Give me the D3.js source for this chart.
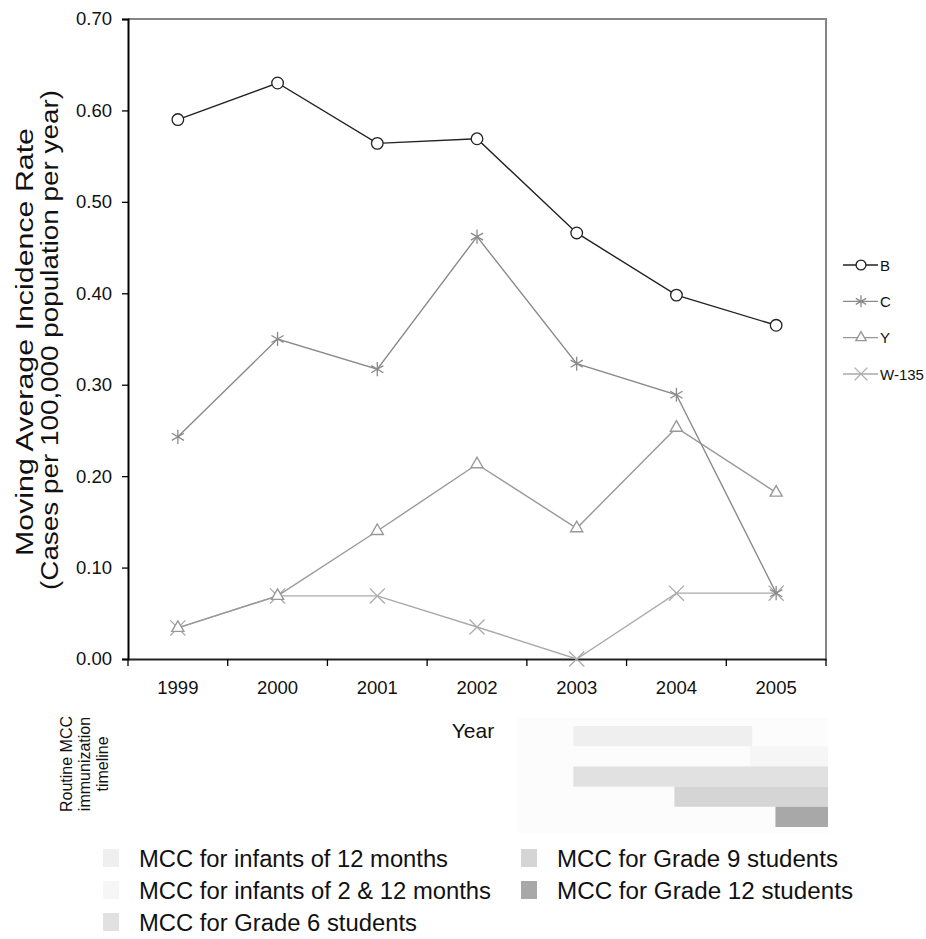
<!DOCTYPE html>
<html><head><meta charset="utf-8">
<script src="https://cdn.jsdelivr.net/npm/d3@7"></script>
<style>body{margin:0;background:#fff;} svg{display:block;font-family:"Liberation Sans",Arial,sans-serif;}</style>
</head><body>
<svg id="chart" width="926" height="939"></svg>
<script>
const years = ["1999","2000","2001","2002","2003","2004","2005"];
const seriesNames = ["B","C","Y","W-135"];
const valuesB = [0.590, 0.630, 0.564, 0.569, 0.466, 0.398, 0.365];
const valuesC = [0.243, 0.350, 0.317, 0.462, 0.323, 0.289, 0.072];
const valuesY = [0.034, 0.069, 0.140, 0.213, 0.143, 0.253, 0.182];
const valuesW = [0.034, 0.069, 0.069, 0.035, 0.000, 0.072, 0.072];
const yTicks = [0,0.1,0.2,0.3,0.4,0.5,0.6,0.7];
const programs = ["MCC for infants of 12 months","MCC for infants of 2 & 12 months","MCC for Grade 6 students","MCC for Grade 9 students","MCC for Grade 12 students"];
const programStart = [2003, 2004.75, 2003, 2004, 2005];
const programEnd = [2004.75, 2005.5, 2005.5, 2005.5, 2005.5];

const svg = d3.select("#chart");
const L=128,R=826,T=19,B=659;
const x = d3.scaleBand().domain(years).range([L,R]);
const y = d3.scaleLinear().domain([0,0.7]).range([B,T]);
const xt = d3.scaleLinear().domain([1998.5,2005.5]).range([118.5,826]);

// frame top/right
svg.append("path").attr("d",`M${L},${T}H${R}V${B}`).attr("fill","none").attr("stroke","#858585").attr("stroke-width",2);

// y axis
const ya = svg.append("g").attr("transform",`translate(${L},0)`).call(d3.axisLeft(y).tickValues(yTicks).tickFormat(d3.format(".2f")).tickSizeOuter(0).tickSize(6).tickPadding(10));
ya.select(".domain").attr("stroke","#000").attr("stroke-width",2);
ya.selectAll(".tick line").attr("stroke","#000").attr("stroke-width",1.3);
ya.selectAll(".tick text").attr("font-size",18.5).attr("fill","#111").attr("font-family","Liberation Sans, Arial, sans-serif");

// x axis
const xa = svg.append("g").attr("transform",`translate(0,${B})`).call(d3.axisBottom(x).tickSize(0).tickPadding(22).tickSizeOuter(0));
xa.select(".domain").attr("stroke","#222").attr("stroke-width",2);
xa.selectAll(".tick text").attr("font-size",18.5).attr("fill","#111").attr("font-family","Liberation Sans, Arial, sans-serif");
const bounds = d3.range(years.length+1).map(i=>L+i*x.bandwidth());
svg.append("g").selectAll("line").data(bounds).join("line")
  .attr("x1",d=>d).attr("x2",d=>d).attr("y1",B).attr("y2",B+7).attr("stroke","#000").attr("stroke-width",1.3);

// axis titles
svg.append("text").attr("transform","translate(33,342) rotate(-90)").attr("text-anchor","middle").attr("font-size",23).attr("fill","#111")
  .attr("textLength",428).attr("lengthAdjust","spacingAndGlyphs").text("Moving Average Incidence Rate");
svg.append("text").attr("transform","translate(58,340) rotate(-90)").attr("text-anchor","middle").attr("font-size",23).attr("fill","#111")
  .attr("textLength",500).attr("lengthAdjust","spacingAndGlyphs").text("(Cases per 100,000 population per year)");
svg.append("text").attr("x",473).attr("y",738).attr("text-anchor","middle").attr("font-size",21).attr("fill","#111").text("Year");

// series
const series = [
  {name:"B", vals:valuesB, color:"#222", sym:"circle"},
  {name:"C", vals:valuesC, color:"#8a8a8a", sym:"asterisk"},
  {name:"Y", vals:valuesY, color:"#999", sym:"triangle"},
  {name:"W-135", vals:valuesW, color:"#aaa", sym:"times"}
];
function marker(g, s, cx, cy, k){
  if(s.sym==="circle"){
    g.append("circle").attr("cx",cx).attr("cy",cy).attr("r",5.8*k).attr("fill","#fff").attr("stroke",s.color).attr("stroke-width",1.3);
  } else if(s.sym==="triangle"){
    g.append("path").attr("transform",`translate(${cx},${cy})`).attr("d",d3.symbol(d3.symbolTriangle2,105*k*k)()).attr("fill","#fff").attr("stroke",s.color).attr("stroke-width",1.4);
  } else if(s.sym==="asterisk"){
    g.append("path").attr("transform",`translate(${cx},${cy})`).attr("d",d3.symbol(d3.symbolAsterisk,140*k*k)()).attr("fill","none").attr("stroke",s.color).attr("stroke-width",1.3);
  } else {
    g.append("path").attr("transform",`translate(${cx},${cy})`).attr("d",d3.symbol(d3.symbolTimes,150*k*k)()).attr("fill","none").attr("stroke",s.color).attr("stroke-width",1.3);
  }
}
const line = d3.line().x((d,i)=>x(years[i])+x.bandwidth()/2).y(d=>y(d));
[series[3],series[2],series[1],series[0]].forEach(s=>{
  const g = svg.append("g");
  g.append("path").attr("d",line(s.vals)).attr("fill","none").attr("stroke",s.color).attr("stroke-width",1.4);
  s.vals.forEach((v,i)=>marker(g,s,x(years[i])+x.bandwidth()/2,y(v),1));
});

// right legend
const ly = d3.scalePoint().domain(seriesNames).range([265,374]);
series.forEach(s=>{
  const g = svg.append("g");
  const yy = ly(s.name);
  g.append("line").attr("x1",843).attr("x2",878).attr("y1",yy).attr("y2",yy).attr("stroke",s.color).attr("stroke-width",1.3);
  marker(g,s,861,yy,0.85);
  g.append("text").attr("x",880).attr("y",yy+5.5).attr("font-size",15).attr("fill","#111").text(s.name);
});

// timeline
const progColors = ["#efefef","#f6f6f6","#e0e1e0","#d5d5d5","#a8a8a8"];
svg.append("rect").attr("x",517).attr("y",718).attr("width",311).attr("height",115).attr("fill","#fcfcfc");
const ty = d3.scaleBand().domain(programs).range([726,827]);
svg.append("g").selectAll("rect").data(programs).join("rect")
  .attr("x",(d,i)=>xt(programStart[i])).attr("width",(d,i)=>xt(programEnd[i])-xt(programStart[i])+2)
  .attr("y",d=>ty(d)).attr("height",ty.bandwidth()).attr("fill",(d,i)=>progColors[i]);

const tl = svg.append("text").attr("transform","translate(0,764) rotate(-90)").attr("text-anchor","middle").attr("font-size",16).attr("fill","#111");
["Routine MCC","immunization","timeline"].forEach((t,i)=>tl.append("tspan").attr("x",0).attr("y",72+i*18).text(t));

// bottom legend
const legPos = [[103,858],[103,890],[103,922],[521,858],[521,890]];
const legLen = [309,352,278,281,296];
programs.forEach((p,i)=>{
  const [lx,lyy]=legPos[i];
  svg.append("rect").attr("x",lx).attr("y",lyy-9).attr("width",16).attr("height",18).attr("fill",progColors[i]);
  svg.append("text").attr("x",lx+36).attr("y",lyy+8.5).attr("font-size",23).attr("fill","#111")
    .attr("textLength",legLen[i]).attr("lengthAdjust","spacingAndGlyphs").text(p);
});
</script>
</body></html>
